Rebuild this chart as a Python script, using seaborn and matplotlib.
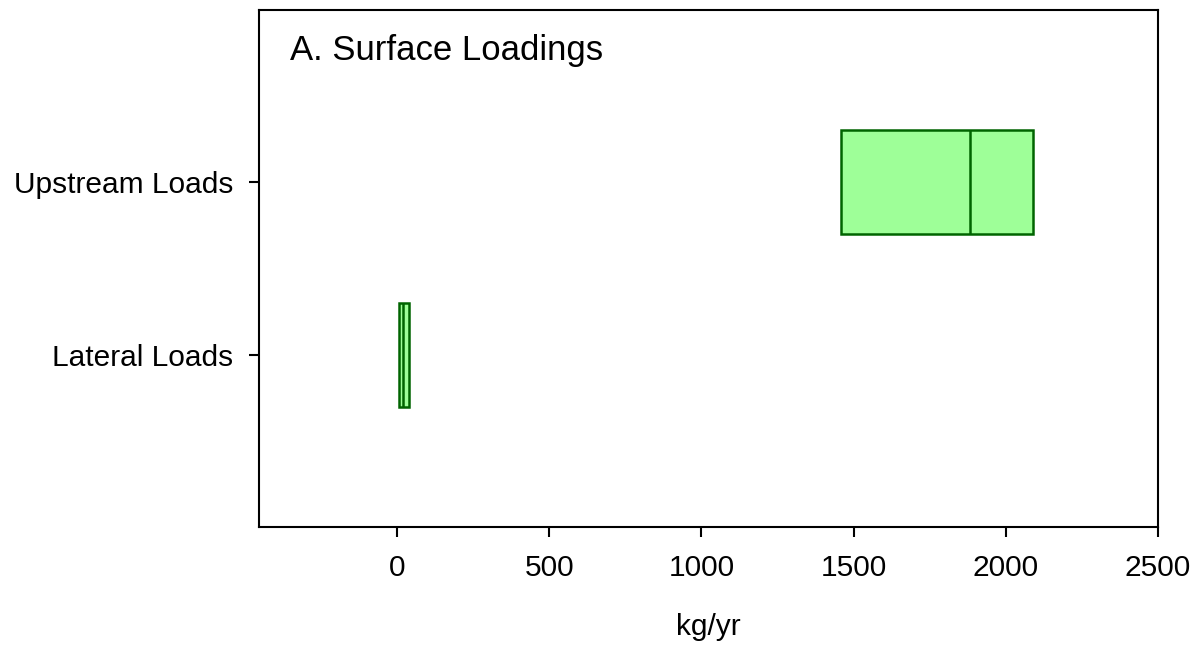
import matplotlib
matplotlib.use("Agg")
import matplotlib.pyplot as plt
import seaborn as sns
import pandas as pd

# Load sources and their annual loading summaries (kg/yr): low, median, high
categories = ["Upstream Loads", "Lateral Loads"]
upstream_values = [1459, 1459, 1882, 2091, 2091]
lateral_values = [6.5, 6.5, 21, 38, 38]

df = pd.DataFrame({
    "source": [categories[0]] * len(upstream_values) + [categories[1]] * len(lateral_values),
    "load": upstream_values + lateral_values,
})

sns.set_style("ticks")
plt.rcParams["font.family"] = ["Liberation Sans", "DejaVu Sans"]
plt.rcParams["text.color"] = "black"
plt.rcParams["axes.labelcolor"] = "black"
plt.rcParams["xtick.color"] = "black"
plt.rcParams["ytick.color"] = "black"

fig = plt.figure(figsize=(12.01, 6.45), dpi=100)
ax = fig.add_axes([0.2157, 0.183, 0.7485, 0.8015])

edge = "#006400"
sns.boxplot(
    data=df, x="load", y="source", order=categories, orient="h",
    width=0.6, color="#9EFF98", saturation=1, showcaps=False, showfliers=False,
    linewidth=1.8, linecolor=edge,
    boxprops=dict(edgecolor=edge), medianprops=dict(color=edge),
    whiskerprops=dict(color=edge), ax=ax,
)

ax.set_xlim(-453, 2500)
ax.set_ylim(1.995, -0.995)
ax.set_xticks([0, 500, 1000, 1500, 2000, 2500])
ax.set_xlabel("kg/yr", fontsize=21.5, labelpad=22, color="black")
ax.set_ylabel("")
ax.tick_params(axis="both", labelsize=21.5, length=7, width=1.5,
               color="black", labelcolor="black")
ax.tick_params(axis="x", pad=12.5)
ax.tick_params(axis="y", pad=11.5)
for s in ax.spines.values():
    s.set_visible(True)
    s.set_linewidth(1.5)
    s.set_color("black")

ax.text(0.0345, 0.903, "A. Surface Loadings", transform=ax.transAxes,
        fontsize=25, ha="left", va="baseline", color="black")

fig.savefig("out.png", dpi=100)
